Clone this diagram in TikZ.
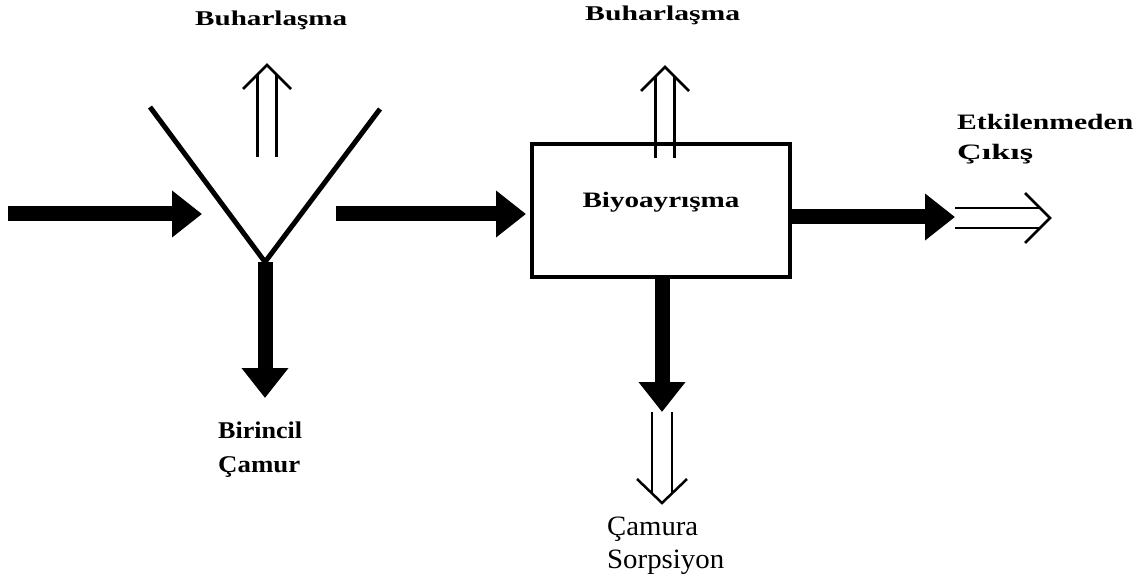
\documentclass[tikz,border=0pt]{standalone}
\usepackage{fontspec}
\setmainfont{Liberation Serif}
\usepackage{graphicx}
\usetikzlibrary{arrows.meta,calc}
\newcommand{\fitw}[2]{\resizebox{#1}{\height}{#2}}
\begin{document}
\begin{tikzpicture}[x=1pt,y=-1pt,
  fat/.style={line width=15pt,-{Triangle[length=30pt,width=45pt]}},
  dbl/.style={line width=2.5pt},
  chev/.style={line width=2.5pt,line join=miter},
  vline/.style={line width=5pt,line join=miter},
  lbl/.style={inner sep=0pt,anchor=base west},
  fa/.style={font=\bfseries\fontsize{21}{24}\selectfont},
  fb/.style={font=\bfseries\fontsize{22}{26}\selectfont},
  fc/.style={font=\bfseries\fontsize{24}{28}\selectfont},
  fd/.style={font=\fontsize{28}{32}\selectfont},
  procbox/.style={draw,line width=4pt,minimum width=258pt,minimum height=133pt,
    inner sep=0pt,text height=14pt,text depth=19pt,
    font=\bfseries\fontsize{22}{24}\selectfont}
]
\useasboundingbox (0,0) rectangle (1146,580);

% process box
\node[procbox] (bio) at (661,210.5) {\fitw{157pt}{Biyoayrışma}};

% settling tank (V shape)
\coordinate (vl) at (150,107);
\coordinate (vb) at (265,262);
\coordinate (vr) at (380,109);
\draw[vline] (vl) -- (vb) -- (vr);

% thick arrows
\coordinate (in) at (8,214);
\coordinate (intip) at (202,214);
\draw[fat] (in) -- (intip);

\coordinate (mid) at (336,214);
\draw[fat] (mid) -- ($(bio.west |- mid)+(-4,0)$);

\coordinate (stemtip) at (265,398);
\draw[fat] (vb) -- (stemtip);

\coordinate (outtip) at (955,217);
\draw[fat] (bio.east |- outtip) -- (outtip);

\coordinate (downtip) at (662,412);
\draw[fat] (bio.south -| downtip) -- (downtip);

% double (hollow) arrows
% up arrow 1
\coordinate (e1b) at (267,157);
\coordinate (e1t) at (267,65);
\draw[dbl] ($(e1b)+(-9.5,0)$) -- ($(e1t)+(-9.5,9.5)$);
\draw[dbl] ($(e1b)+(9.5,0)$) -- ($(e1t)+(9.5,9.5)$);
\draw[chev] ($(e1t)+(-24,24)$) -- (e1t) -- ($(e1t)+(24,24)$);

% up arrow 2
\coordinate (e2b) at (665,158);
\coordinate (e2t) at (665,67);
\draw[dbl] ($(e2b)+(-9.5,0)$) -- ($(e2t)+(-9.5,9.5)$);
\draw[dbl] ($(e2b)+(9.5,0)$) -- ($(e2t)+(9.5,9.5)$);
\draw[chev] ($(e2t)+(-24,24)$) -- (e2t) -- ($(e2t)+(24,24)$);

% right arrow
\coordinate (rb) at (955,218);
\coordinate (rt) at (1050,218);
\draw[dbl] ($(rb)+(0,-10)$) -- ($(rt)+(-10,-10)$);
\draw[dbl] ($(rb)+(0,10)$) -- ($(rt)+(-10,10)$);
\draw[chev] ($(rt)+(-25,-25)$) -- (rt) -- ($(rt)+(-25,25)$);

% down arrow
\coordinate (db) at (662,412);
\coordinate (dt) at (662,503);
\draw[dbl] ($(db)+(-10,0)$) -- ($(dt)+(-10,-10)$);
\draw[dbl] ($(db)+(10,0)$) -- ($(dt)+(10,-10)$);
\draw[chev] ($(dt)+(-25,-24)$) -- (dt) -- ($(dt)+(25,-24)$);

% labels
\node[lbl,fa] (buh1) at (195,26) {\fitw{152pt}{Buharlaşma}};
\node[lbl,fa] (buh2) at (585,21) {\fitw{155pt}{Buharlaşma}};
\node[lbl,fb] (etk1) at (957,130) {\fitw{176pt}{Etkilenmeden}};
\node[lbl,fb] (etk2) at (957,160) {\fitw{76pt}{Çıkış}};
\node[lbl,fc] (bir1) at (218,438) {\fitw{84pt}{Birincil}};
\node[lbl,fc] (bir2) at (218,472) {\fitw{82pt}{Çamur}};
\node[lbl,fd] (cam1) at (607,535) {\fitw{91pt}{Çamura}};
\node[lbl,fd] (cam2) at (607,568) {\fitw{117pt}{Sorpsiyon}};
\end{tikzpicture}
\end{document}
